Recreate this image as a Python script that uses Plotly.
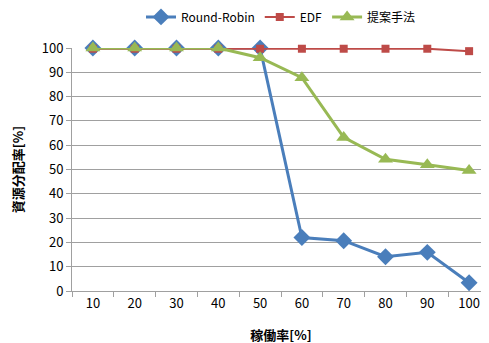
import plotly.graph_objects as go

categories = ["10", "20", "30", "40", "50", "60", "70", "80", "90", "100"]
round_robin = [100, 100, 100, 100, 100, 22, 20.7, 14.1, 15.9, 3.4]
edf = [99.7, 99.7, 99.7, 99.7, 99.7, 99.7, 99.7, 99.7, 99.7, 98.7]
proposed = [100, 100, 100, 100, 96, 87.8, 63.2, 54.2, 52, 49.6]
y_ticks = list(range(0, 101, 10))

font = "Noto Sans CJK JP, Noto Sans, sans-serif"

fig = go.Figure()
fig.add_trace(go.Scatter(x=categories, y=round_robin, name="Round-Robin", mode="lines+markers",
                         line=dict(color="#4A7EBB", width=3), cliponaxis=False,
                         marker=dict(symbol="diamond", size=13, color="#4A7EBB")))
fig.add_trace(go.Scatter(x=categories, y=edf, name="EDF", mode="lines+markers",
                         line=dict(color="#BE4B48", width=2), cliponaxis=False,
                         marker=dict(symbol="square", size=8, color="#BE4B48")))
fig.add_trace(go.Scatter(x=categories, y=proposed, name="提案手法", mode="lines+markers",
                         line=dict(color="#98B954", width=3), cliponaxis=False,
                         marker=dict(symbol="triangle-up", size=13, color="#98B954")))

fig.update_layout(
    width=489, height=343,
    margin=dict(l=64, r=7, t=40, b=60, autoexpand=False),
    paper_bgcolor="white", plot_bgcolor="white",
    font=dict(family=font, size=13, color="black"),
    legend=dict(orientation="h", x=0.5, xanchor="center", y=0.974, yanchor="middle",
                yref="container", font=dict(size=12), itemwidth=30),
    xaxis=dict(type="category", tickson="boundaries", ticks="outside", ticklen=5,
               tickcolor="#A0A0A0", showline=True, linecolor="#A0A0A0", linewidth=1,
               showgrid=False, range=[-0.5, 9.5], automargin=False,
               title=dict(text="<b>稼働率[%]</b>", font=dict(size=13), standoff=20)),
    yaxis=dict(range=[0, 100], tickvals=y_ticks, ticks="outside", ticklen=5,
               tickcolor="#A0A0A0", showline=True, linecolor="#A0A0A0", linewidth=1,
               showgrid=True, gridcolor="#A0A0A0", gridwidth=1, zeroline=False,
               automargin=False,
               title=dict(text="<b>資源分配率[%]</b>", font=dict(size=13), standoff=17)),
)

fig.write_html("out.html")
